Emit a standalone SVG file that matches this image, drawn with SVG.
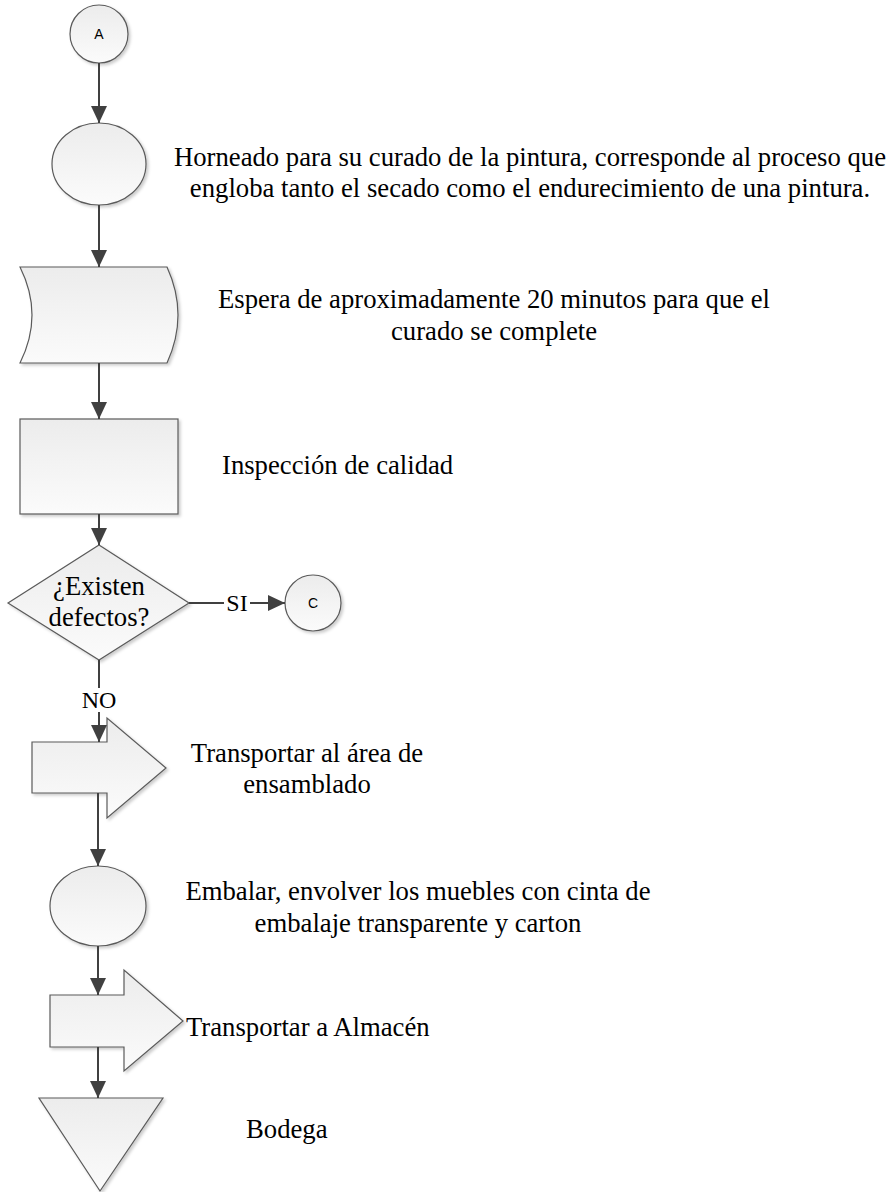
<svg xmlns="http://www.w3.org/2000/svg" width="893" height="1192" viewBox="0 0 893 1192">
<style>
.shape{fill:url(#g);stroke:#5a5a5a;stroke-width:1.2;filter:url(#sh)}
.conn{stroke:#404040;stroke-width:2;fill:none}
.t{font-family:"Liberation Serif","Times New Roman",serif;font-size:26.7px;fill:#000}
.s{font-family:"Liberation Sans",Arial,sans-serif;font-size:14px;fill:#000}
.lbl{font-family:"Liberation Serif","Times New Roman",serif;font-size:24px;fill:#000}
</style>
<defs>
<linearGradient id="g" x1="0" y1="0" x2="0" y2="1">
<stop offset="0" stop-color="#ececec"/>
<stop offset="1" stop-color="#fbfbfb"/>
</linearGradient>
<filter id="sh" x="-10%" y="-10%" width="130%" height="130%">
<feDropShadow dx="2" dy="2" stdDeviation="1.5" flood-color="#000" flood-opacity="0.2"/>
</filter>
<marker id="ah" viewBox="0 0 17 16" markerWidth="17" markerHeight="16" refX="17" refY="8" orient="auto" markerUnits="userSpaceOnUse">
<path d="M0,0 L17,8 L0,16 Z" fill="#404040"/>
</marker>
</defs>

<g id="nodeA">
<circle class="shape" cx="99" cy="34" r="29"/>
<text class="s" x="99" y="39" text-anchor="middle">A</text>
</g>

<g id="horneado">
<ellipse class="shape" cx="99" cy="164" rx="47" ry="41"/>
<text class="t" x="530" y="166" text-anchor="middle">Horneado para su curado de la pintura, corresponde al proceso que</text>
<text class="t" x="530" y="197" text-anchor="middle">engloba tanto el secado como el endurecimiento de una pintura.</text>
</g>

<g id="espera">
<path class="shape" d="M20,267 L167,267 Q189,315 167,363 L20,363 Q44,315 20,267 Z"/>
<text class="t" x="494" y="308" text-anchor="middle">Espera de aproximadamente 20 minutos para que el</text>
<text class="t" x="494" y="340" text-anchor="middle">curado se complete</text>
</g>

<g id="inspeccion">
<rect class="shape" x="20" y="419" width="158" height="95"/>
<text class="t" x="222" y="474">Inspección de calidad</text>
</g>

<g id="decision">
<polygon class="shape" points="99,545 189,603 99,660 8,603"/>
<text class="t" x="99" y="595" text-anchor="middle">¿Existen</text>
<text class="t" x="99" y="626" text-anchor="middle">defectos?</text>
</g>

<g id="nodeC">
<circle class="shape" cx="313" cy="603" r="28"/>
<text class="s" x="313" y="608" text-anchor="middle">C</text>
</g>

<g id="transporte1">
<path class="shape" d="M32,742 L107,742 L107,718 L166,768 L107,818 L107,793 L32,793 Z"/>
<text class="t" x="307" y="762" text-anchor="middle">Transportar al área de</text>
<text class="t" x="307" y="793" text-anchor="middle">ensamblado</text>
</g>

<g id="embalar">
<ellipse class="shape" cx="98" cy="906" rx="48" ry="40"/>
<text class="t" x="418" y="900" text-anchor="middle">Embalar, envolver los muebles con cinta de</text>
<text class="t" x="418" y="932" text-anchor="middle">embalaje transparente y carton</text>
</g>

<g id="transporte2">
<path class="shape" d="M50,995 L124,995 L124,970 L183,1021 L124,1071 L124,1047 L50,1047 Z"/>
<text class="t" x="186" y="1036">Transportar a Almacén</text>
</g>

<g id="bodega">
<polygon class="shape" points="39,1098 163,1098 100,1191"/>
<text class="t" x="246" y="1138">Bodega</text>
</g>

<g id="connectors">
<line class="conn" x1="99" y1="63" x2="99" y2="123" marker-end="url(#ah)"/>
<line class="conn" x1="99" y1="205" x2="99" y2="267" marker-end="url(#ah)"/>
<line class="conn" x1="99" y1="363" x2="99" y2="419" marker-end="url(#ah)"/>
<line class="conn" x1="99" y1="514" x2="99" y2="545" marker-end="url(#ah)"/>
<line class="conn" x1="189" y1="603" x2="224" y2="603"/>
<line class="conn" x1="250" y1="603" x2="285" y2="603" marker-end="url(#ah)"/>
<text class="lbl" x="237" y="611" text-anchor="middle">SI</text>
<line class="conn" x1="99" y1="660" x2="99" y2="688"/>
<line class="conn" x1="99" y1="712" x2="99" y2="742" marker-end="url(#ah)"/>
<text class="lbl" x="99" y="708" text-anchor="middle">NO</text>
<line class="conn" x1="98" y1="793" x2="98" y2="866" marker-end="url(#ah)"/>
<line class="conn" x1="98" y1="946" x2="98" y2="995" marker-end="url(#ah)"/>
<line class="conn" x1="98" y1="1047" x2="98" y2="1098" marker-end="url(#ah)"/>
</g>
</svg>
